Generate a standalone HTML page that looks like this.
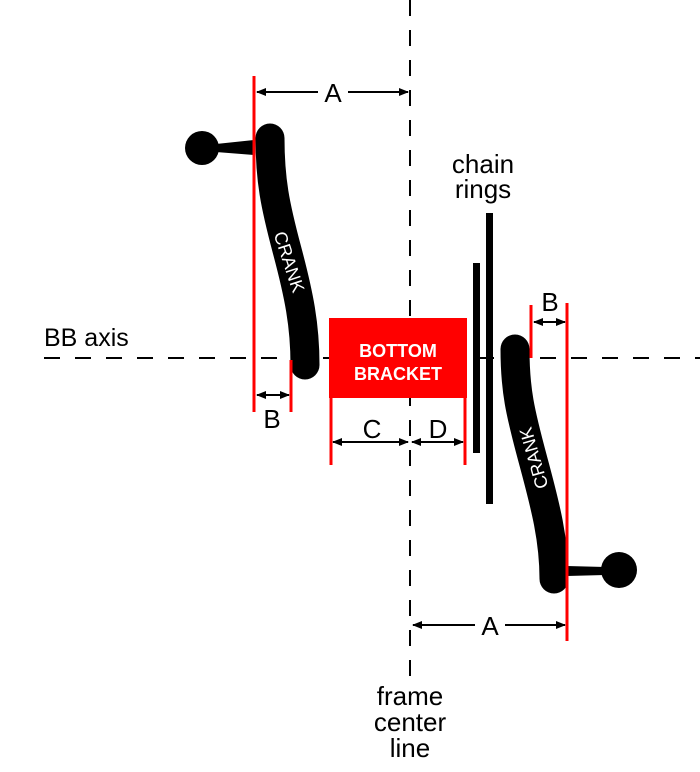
<!DOCTYPE html>
<html><head><meta charset="utf-8"><style>
html,body{margin:0;padding:0;background:#fff;}
svg{display:block;}
text{font-family:"Liberation Sans","DejaVu Sans",sans-serif;}
</style></head><body>
<svg width="700" height="772" viewBox="0 0 700 772" xmlns="http://www.w3.org/2000/svg">
<defs>
<marker id="ah" markerWidth="10" markerHeight="8" refX="9" refY="4" orient="auto-start-reverse" markerUnits="userSpaceOnUse">
<path d="M0,0 L10,4 L0,8 z" fill="#000"/>
</marker>
</defs>
<line x1="410" y1="0" x2="410" y2="678" stroke="#000" stroke-width="2" stroke-dasharray="16,14"/>
<line x1="44" y1="358" x2="700" y2="358" stroke="#000" stroke-width="2" stroke-dasharray="16,15"/>
<text x="44" y="346" font-size="25" fill="#000">BB axis</text>

<!-- left crank -->
<circle cx="202" cy="148" r="17" fill="#000"/>
<path d="M216,144 L254,140 L254,155 L216,152 z" fill="#000"/>
<path d="M270,138 C270,180 275,205 287,250 C299,295 305,325 305,365" stroke="#000" stroke-width="29" stroke-linecap="round" fill="none"/>
<text transform="translate(289,262) rotate(72)" font-size="18" fill="#fff" text-anchor="middle" dominant-baseline="central">CRANK</text>

<!-- right crank -->
<circle cx="619" cy="570" r="18" fill="#000"/>
<path d="M567,566 L605,567 L605,575 L567,576 z" fill="#000"/>
<path d="M515,349 C515,390 520,412 533,460 C546,508 554,540 554,579" stroke="#000" stroke-width="29" stroke-linecap="round" fill="none"/>
<text transform="translate(534,458) rotate(-106)" font-size="18" fill="#fff" text-anchor="middle" dominant-baseline="central">CRANK</text>

<!-- chain rings -->
<rect x="473" y="263" width="7" height="190" fill="#000"/>
<rect x="486" y="213" width="7" height="291" fill="#000"/>
<text x="483" y="173" font-size="26" text-anchor="middle" fill="#000">chain</text>
<text x="483" y="198" font-size="26" text-anchor="middle" fill="#000">rings</text>

<!-- bottom bracket -->
<rect x="329" y="318" width="138" height="80" fill="#f00"/>
<text x="398" y="357" font-size="18" font-weight="bold" fill="#fff" text-anchor="middle">BOTTOM</text>
<text x="398" y="380" font-size="18" font-weight="bold" fill="#fff" text-anchor="middle">BRACKET</text>

<g stroke="#f00" stroke-width="3">
<line x1="254" y1="76" x2="254" y2="412"/>
<line x1="291" y1="360" x2="291" y2="412"/>
<line x1="331" y1="398" x2="331" y2="465"/>
<line x1="465" y1="398" x2="465" y2="465"/>
<line x1="531" y1="305" x2="531" y2="358"/>
<line x1="567" y1="303" x2="567" y2="641"/>
</g>

<g stroke="#000" stroke-width="2" fill="none">
<line x1="257" y1="92" x2="318" y2="92" marker-start="url(#ah)"/>
<line x1="348" y1="92" x2="408" y2="92" marker-end="url(#ah)"/>
<line x1="257" y1="395" x2="289" y2="395" marker-start="url(#ah)" marker-end="url(#ah)"/>
<line x1="333" y1="442" x2="408" y2="442" marker-start="url(#ah)" marker-end="url(#ah)"/>
<line x1="412" y1="442" x2="463" y2="442" marker-start="url(#ah)" marker-end="url(#ah)"/>
<line x1="534" y1="322" x2="565" y2="322" marker-start="url(#ah)" marker-end="url(#ah)"/>
<line x1="413" y1="625" x2="475" y2="625" marker-start="url(#ah)"/>
<line x1="505" y1="625" x2="565" y2="625" marker-end="url(#ah)"/>
</g>
<g font-size="26" fill="#000" text-anchor="middle">
<text x="333" y="102">A</text>
<text x="272" y="428">B</text>
<text x="372" y="438">C</text>
<text x="438" y="438">D</text>
<text x="550" y="311">B</text>
<text x="490" y="635">A</text>
<text x="410" y="705">frame</text>
<text x="410" y="731">center</text>
<text x="410" y="757">line</text>
</g>
</svg>
</body></html>
